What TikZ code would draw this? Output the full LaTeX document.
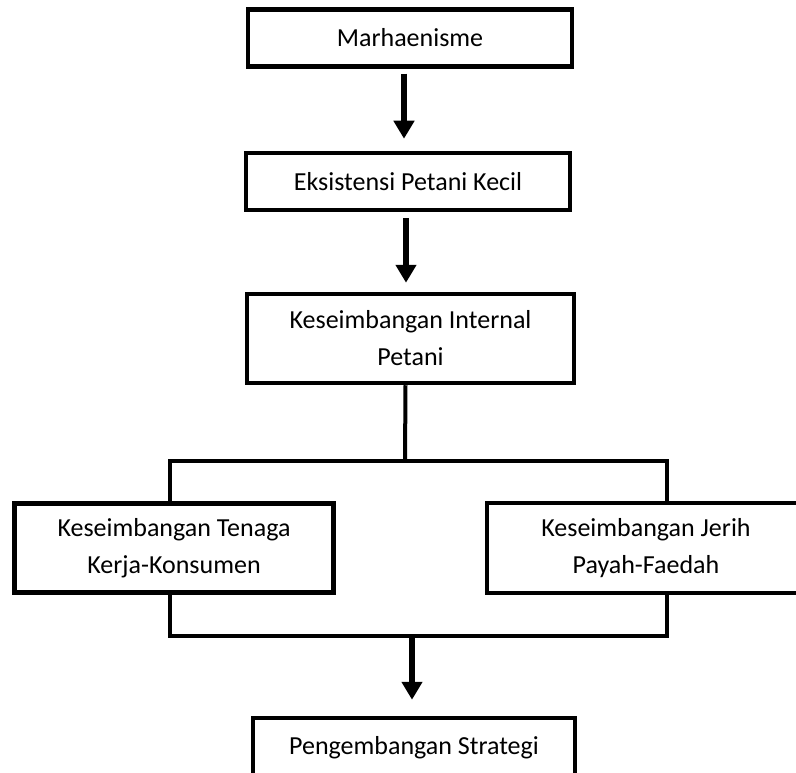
\documentclass[tikz,border=0pt]{standalone}
\usepackage{fontspec}
\setmainfont{Carlito}
\usetikzlibrary{arrows.meta}

\begin{document}
\begin{tikzpicture}[x=1pt,y=-1pt,
	main node/.style={draw,line width=4.5pt,align=center,inner sep=0pt,font=\fontsize{26}{37}\selectfont},
	flow/.style={-{Triangle[length=18pt,width=20pt]},line width=6pt},
	link/.style={line width=4pt}]

	\useasboundingbox (0,0) rectangle (796,773);

	\node[main node,minimum width=324pt,minimum height=57pt] (1) at (410,38) {Marhaenisme};
	\node[main node,minimum width=324pt,minimum height=57pt] (2) at (408,181.5) {Eksistensi Petani Kecil};
	\node[main node,minimum width=327pt,minimum height=89pt] (3) at (410.5,338.5) {Keseimbangan Internal\\Petani};
	\node[main node,minimum width=319pt,minimum height=89pt] (4) at (174,548) {Keseimbangan Tenaga\\Kerja-Konsumen};
	\node[main node,minimum width=318pt,minimum height=90pt] (5) at (646,548) {Keseimbangan Jerih\\Payah-Faedah};
	\node[main node,minimum width=322pt,minimum height=60pt] (6) at (414,748) {Pengembangan Strategi};

	\coordinate (top) at (405,461);
	\coordinate (bottom) at (412,636);

	\draw[flow,shorten <=5pt,shorten >=12pt] ([xshift=-6pt]1.south) -- ([xshift=-6pt]1.south |- 2.north);
	\draw[flow,shorten <=6pt,shorten >=9pt] ([xshift=-2pt]2.south) -- ([xshift=-2pt]2.south |- 3.north);

	\draw[link] ([xshift=-5pt]3.south) -- (top);
	\draw[link] ([xshift=-4pt]4.north) |- (top) -| ([xshift=21pt]5.north);
	\draw[link] ([xshift=-4pt]4.south) |- (bottom) -| ([xshift=21pt]5.south);
	\draw[flow,shorten >=16pt] (bottom) -- (bottom |- 6.north);

\end{tikzpicture}
\end{document}
